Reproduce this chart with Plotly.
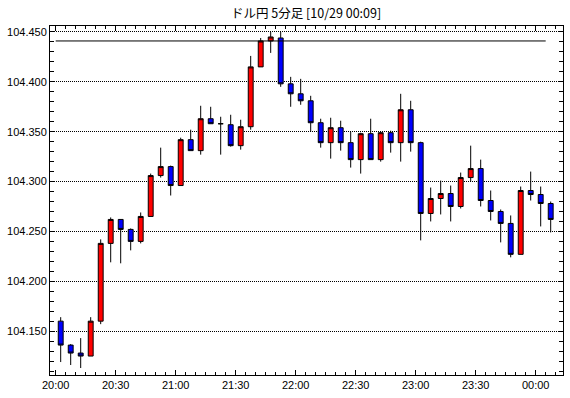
import pandas as pd
import plotly.graph_objects as go

# ---- data (5-minute USD/JPY candles, start times from 20:00) ----
start_times = pd.date_range("2020-10-28 20:00", periods=50, freq="5min")

open_ = [104.160, 104.136, 104.128, 104.125, 104.160, 104.238, 104.262, 104.252, 104.240, 104.265,
         104.306, 104.315, 104.296, 104.342, 104.331, 104.363, 104.358, 104.357, 104.336, 104.355,
         104.415, 104.441, 104.444, 104.398, 104.388, 104.381, 104.359, 104.339, 104.354, 104.339,
         104.322, 104.348, 104.322, 104.349, 104.339, 104.372, 104.339, 104.268, 104.283, 104.288,
         104.275, 104.304, 104.313, 104.281, 104.270, 104.258, 104.227, 104.291, 104.287, 104.278]
high = [104.164, 104.137, 104.143, 104.164, 104.242, 104.264, 104.262, 104.253, 104.269, 104.308,
        104.334, 104.316, 104.344, 104.352, 104.376, 104.375, 104.365, 104.367, 104.362, 104.426,
        104.444, 104.450, 104.450, 104.405, 104.403, 104.386, 104.363, 104.364, 104.361, 104.350,
        104.349, 104.363, 104.350, 104.351, 104.388, 104.381, 104.340, 104.294, 104.301, 104.296,
        104.309, 104.336, 104.322, 104.291, 104.272, 104.266, 104.295, 104.310, 104.295, 104.280]
low = [104.119, 104.116, 104.113, 104.125, 104.157, 104.219, 104.218, 104.231, 104.238, 104.265,
       104.304, 104.286, 104.296, 104.331, 104.327, 104.358, 104.327, 104.335, 104.332, 104.352,
       104.415, 104.429, 104.395, 104.375, 104.377, 104.350, 104.334, 104.323, 104.331, 104.314,
       104.308, 104.322, 104.320, 104.329, 104.320, 104.330, 104.241, 104.260, 104.267, 104.260,
       104.273, 104.300, 104.275, 104.261, 104.239, 104.224, 104.227, 104.281, 104.255, 104.249]
close = [104.136, 104.128, 104.125, 104.160, 104.238, 104.262, 104.252, 104.240, 104.265, 104.306,
         104.315, 104.296, 104.342, 104.331, 104.363, 104.358, 104.358, 104.336, 104.355, 104.415,
         104.441, 104.445, 104.398, 104.388, 104.381, 104.359, 104.339, 104.354, 104.339, 104.322,
         104.348, 104.322, 104.349, 104.339, 104.372, 104.339, 104.268, 104.283, 104.288, 104.275,
         104.304, 104.313, 104.281, 104.270, 104.258, 104.227, 104.291, 104.287, 104.278, 104.262]

ref_level = 104.441
ref_start = "2020-10-28 20:00"
ref_end = "2020-10-29 00:05"

y_tickvals = [104.150, 104.200, 104.250, 104.300, 104.350, 104.400, 104.450]
title_text = "ドル円 5分足 [10/29 00:09]"

# candles drawn at the middle of each 5-minute period
x_mid = start_times + pd.Timedelta(minutes=2.5)

fig = go.Figure()
fig.add_trace(go.Candlestick(
    x=x_mid, open=open_, high=high, low=low, close=close,
    increasing=dict(fillcolor="#FF0000", line=dict(color="#000000", width=1)),
    decreasing=dict(fillcolor="#0000FF", line=dict(color="#000000", width=1)),
    whiskerwidth=0,
    showlegend=False,
    hoverinfo="x+y",
))

fig.add_shape(type="line", xref="x", yref="y",
              x0=ref_start, x1=ref_end, y0=ref_level, y1=ref_level,
              line=dict(color="#000000", width=1))

tick_font = dict(family="Liberation Sans, Arial, sans-serif", size=11, color="#000000")

fig.update_layout(
    width=570, height=398,
    margin=dict(l=50, r=7, t=26, b=23),
    paper_bgcolor="#FFFFFF",
    plot_bgcolor="#FFFFFF",
    title=dict(text=title_text, x=0.537, xanchor="center", y=0.967, yanchor="middle",
               font=dict(family="Noto Sans CJK JP", size=12.5, color="#000000")),
    xaxis=dict(
        type="date",
        range=["2020-10-28 19:57:09", "2020-10-29 00:13:39"],
        rangeslider=dict(visible=False),
        tickformat="%H:%M",
        tick0="2020-10-28 20:00", dtick=30 * 60 * 1000,
        ticks="inside", ticklen=5, tickcolor="#000000", tickwidth=1,
        minor=dict(dtick=5 * 60 * 1000, ticks="inside", ticklen=3, tickcolor="#000000", showgrid=False),
        showline=True, linecolor="#000000", linewidth=1, mirror="ticks",
        showgrid=False, zeroline=False,
        tickfont=tick_font,
    ),
    yaxis=dict(
        range=[104.106, 104.456],
        tickvals=y_tickvals, tickformat=".3f",
        ticks="inside", ticklen=4, tickcolor="#000000", tickwidth=1,
        minor=dict(dtick=0.01, tick0=104.0, ticks="inside", ticklen=4, tickcolor="#000000", showgrid=False),
        showline=True, linecolor="#000000", linewidth=1, mirror="ticks",
        showgrid=True, gridcolor="#000000", gridwidth=1, griddash="1px,1px",
        zeroline=False,
        tickfont=tick_font,
    ),
)

# remove the default 8px page margin so the figure fills the window exactly
fig.write_html("out.html", config={"displayModeBar": False},
               post_script="document.body.style.margin='0px';")
